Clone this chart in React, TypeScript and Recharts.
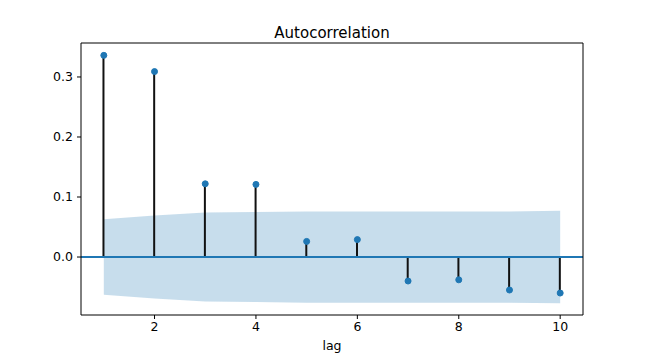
import {
  Area,
  Bar,
  ComposedChart,
  Line,
  ReferenceLine,
  XAxis,
  YAxis,
} from 'recharts';

const lags = [1, 2, 3, 4, 5, 6, 7, 8, 9, 10];
const acfValues = [0.336, 0.309, 0.122, 0.121, 0.026, 0.029, -0.04, -0.038, -0.055, -0.06];
const confUpper = [0.063, 0.069, 0.074, 0.075, 0.076, 0.076, 0.076, 0.076, 0.076, 0.077];
const confLower = [-0.063, -0.069, -0.074, -0.075, -0.076, -0.076, -0.076, -0.076, -0.076, -0.077];
const xTicks = [2, 4, 6, 8, 10];
const yTicks = [0, 0.1, 0.2, 0.3];

const xDomain = [0.55, 10.45];
const yDomain = [-0.0966, 0.3566];

const blue = '#1f77b4';
const font = 'DejaVu Sans, sans-serif';

const data = lags.map((lag, i) => ({
  lag,
  acf: acfValues[i],
  band: [confLower[i], confUpper[i]],
}));

const App = () => {
  return (
    <div style={{ position: 'absolute', left: 0, top: 0, width: 648, height: 360, background: '#fff' }}>
      <div
        style={{
          position: 'absolute',
          left: 182,
          width: 300,
          top: 26,
          textAlign: 'center',
          fontFamily: font,
          fontSize: 15,
          lineHeight: '15px',
          color: '#000',
        }}
      >
        Autocorrelation
      </div>
      <ComposedChart
        width={648}
        height={360}
        data={data}
        margin={{ top: 43, right: 65, bottom: 0, left: 0 }}
        style={{ fontFamily: font }}
      >
        <XAxis
          dataKey='lag'
          type='number'
          domain={xDomain}
          allowDataOverflow
          ticks={xTicks}
          height={45}
          tickSize={4}
          tickMargin={3}
          tick={{ fill: '#000', fontSize: 12.5 }}
          axisLine={{ stroke: '#000' }}
          tickLine={{ stroke: '#000' }}
          label={{ value: 'lag', position: 'insideBottom', offset: 10, fill: '#000', fontSize: 12.5 }}
        />
        <YAxis
          type='number'
          domain={yDomain}
          allowDataOverflow
          ticks={yTicks}
          width={81}
          tickSize={4}
          tickMargin={4}
          tickFormatter={(v) => v.toFixed(1)}
          tick={{ fill: '#000', fontSize: 12.5 }}
          axisLine={{ stroke: '#000' }}
          tickLine={{ stroke: '#000' }}
        />
        <Area
          dataKey='band'
          type='linear'
          fill={blue}
          fillOpacity={0.25}
          stroke='none'
          isAnimationActive={false}
        />
        <ReferenceLine y={0} stroke={blue} strokeWidth={2} />
        <Bar dataKey='acf' barSize={2} fill='#111' isAnimationActive={false} />
        <Line
          dataKey='acf'
          stroke='none'
          dot={{ r: 3, fill: blue, stroke: blue, strokeWidth: 1 }}
          activeDot={false}
          isAnimationActive={false}
        />
        {/* top and right spines */}
        <ReferenceLine y={yDomain[1]} stroke='#000' strokeWidth={1} />
        <ReferenceLine x={xDomain[1]} stroke='#000' strokeWidth={1} />
      </ComposedChart>
    </div>
  );
};

export default App;
